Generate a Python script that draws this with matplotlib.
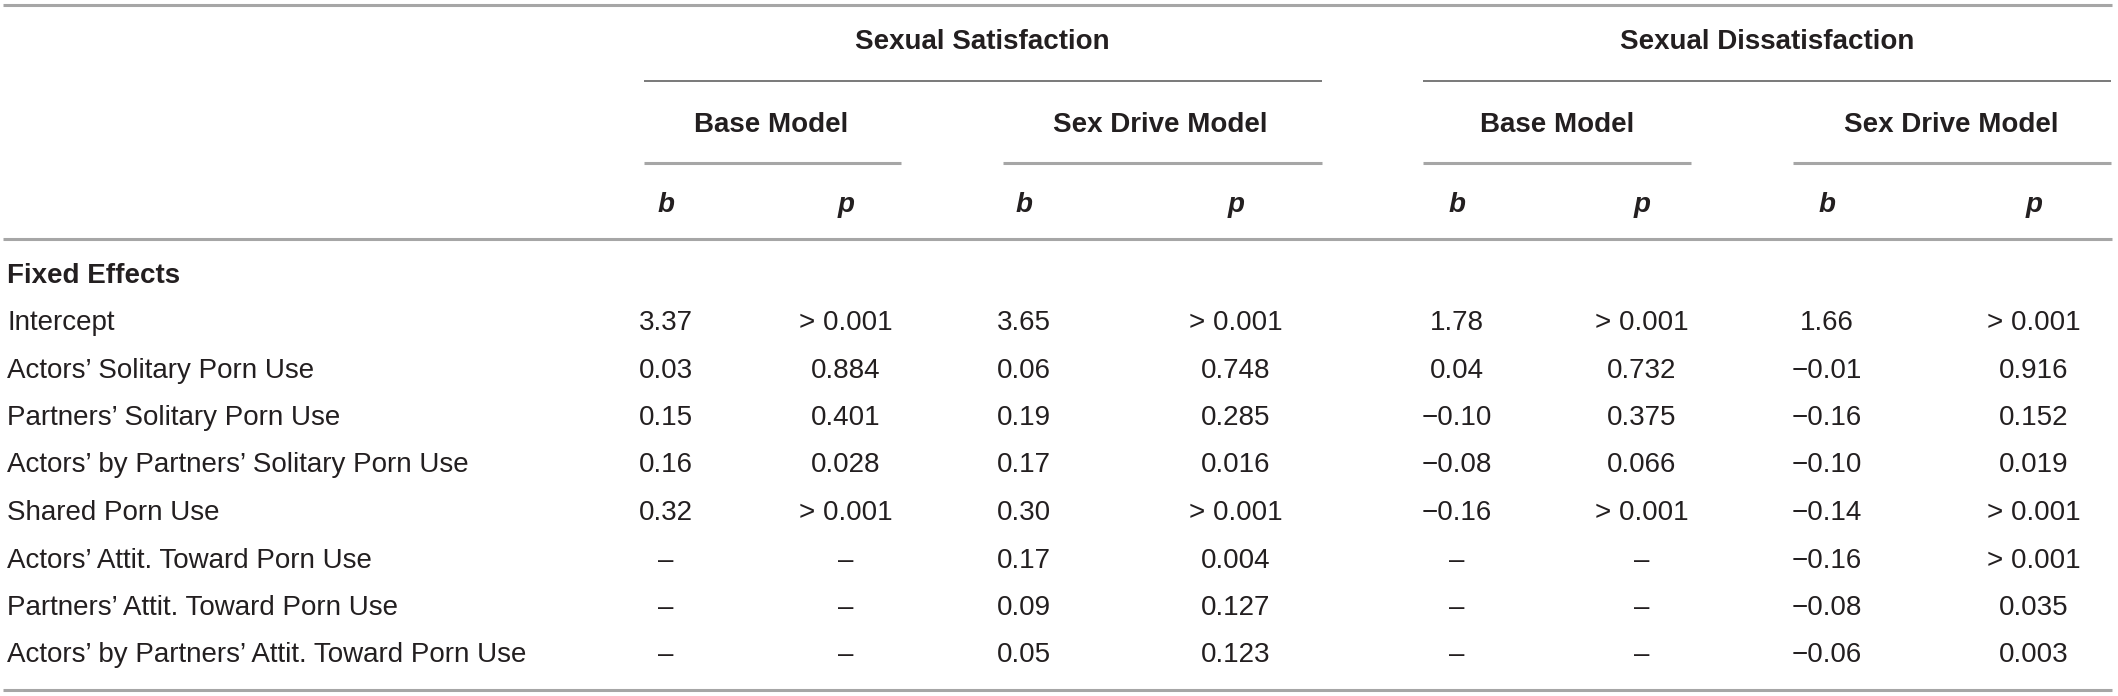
import matplotlib
matplotlib.use("Agg")
import matplotlib.pyplot as plt
from matplotlib import font_manager

# table content
groups = ["Sexual Satisfaction", "Sexual Dissatisfaction"]
models = ["Base Model", "Sex Drive Model", "Base Model", "Sex Drive Model"]
stats = ["b", "p", "b", "p", "b", "p", "b", "p"]
section = "Fixed Effects"
row_labels = [
    "Intercept",
    "Actors\u2019 Solitary Porn Use",
    "Partners\u2019 Solitary Porn Use",
    "Actors\u2019 by Partners\u2019 Solitary Porn Use",
    "Shared Porn Use",
    "Actors\u2019 Attit. Toward Porn Use",
    "Partners\u2019 Attit. Toward Porn Use",
    "Actors\u2019 by Partners\u2019 Attit. Toward Porn Use",
]
D = "\u2013"
M = "\u2212"
ss_base_b = ["3.37", "0.03", "0.15", "0.16", "0.32", D, D, D]
ss_base_p = ["> 0.001", "0.884", "0.401", "0.028", "> 0.001", D, D, D]
ss_drive_b = ["3.65", "0.06", "0.19", "0.17", "0.30", "0.17", "0.09", "0.05"]
ss_drive_p = ["> 0.001", "0.748", "0.285", "0.016", "> 0.001", "0.004", "0.127", "0.123"]
sd_base_b = ["1.78", "0.04", M + "0.10", M + "0.08", M + "0.16", D, D, D]
sd_base_p = ["> 0.001", "0.732", "0.375", "0.066", "> 0.001", D, D, D]
sd_drive_b = ["1.66", M + "0.01", M + "0.16", M + "0.10", M + "0.14", M + "0.16", M + "0.08", M + "0.06"]
sd_drive_p = ["> 0.001", "0.916", "0.152", "0.019", "> 0.001", "> 0.001", "0.035", "0.003"]
columns = [ss_base_b, ss_base_p, ss_drive_b, ss_drive_p,
           sd_base_b, sd_base_p, sd_drive_b, sd_drive_p]

# pick a font
names = {f.name for f in font_manager.fontManager.ttflist}
fam = "Liberation Sans Narrow" if "Liberation Sans Narrow" in names else "Liberation Sans"
plt.rcParams["font.family"] = [fam, "DejaVu Sans"]

W, H = 2118, 696
fig = plt.figure(figsize=(W / 100, H / 100), dpi=100)
ax = fig.add_axes([0, 0, 1, 1])
ax.set_xlim(0, W)
ax.set_ylim(H, 0)
ax.axis("off")

txt = "#231f20"
fs = 20
col_x = [666, 846, 1024, 1236, 1457, 1642, 1827, 2034]
model_x = [771, 1160, 1557, 1951]
group_x = [982, 1767]
group_span = [(644, 1322), (1423, 2111)]
model_span = [(644, 901), (1003, 1322), (1423, 1691), (1793, 2111)]

light = "#a6a6a6"
dark = "#6e6e6e"
for y in [5, 239]:
    ax.plot([3, 2112], [y, y], color=light, lw=2.2, solid_capstyle="butt")
for (a, b) in group_span:
    ax.plot([a, b], [81, 81], color=dark, lw=1.3, solid_capstyle="butt")
for (a, b) in model_span:
    ax.plot([a, b], [163, 163], color=light, lw=2.2, solid_capstyle="butt")

for g, x in zip(groups, group_x):
    ax.text(x, 42, g, ha="center", va="center", fontsize=fs, fontweight="bold", color=txt)
for m, x in zip(models, model_x):
    ax.text(x, 125, m, ha="center", va="center", fontsize=fs, fontweight="bold", color=txt)
for s, x in zip(stats, col_x):
    ax.text(x, 205, s, ha="center", va="center", fontsize=fs, fontweight="bold",
            fontstyle="italic", color=txt)

ax.text(7, 276, section, ha="left", va="center", fontsize=fs, fontweight="bold", color=txt)
row_y = [323 + 47.5 * i for i in range(len(row_labels))]
for lab, y in zip(row_labels, row_y):
    ax.text(7, y, lab, ha="left", va="center", fontsize=fs, color=txt)
for col, x in zip(columns, col_x):
    for v, y in zip(col, row_y):
        ax.text(x, y, v, ha="center", va="center", fontsize=fs, color=txt)

ax.plot([3, 2112], [690, 690], color=light, lw=2.2, solid_capstyle="butt")

fig.savefig("out.png", dpi=100)
